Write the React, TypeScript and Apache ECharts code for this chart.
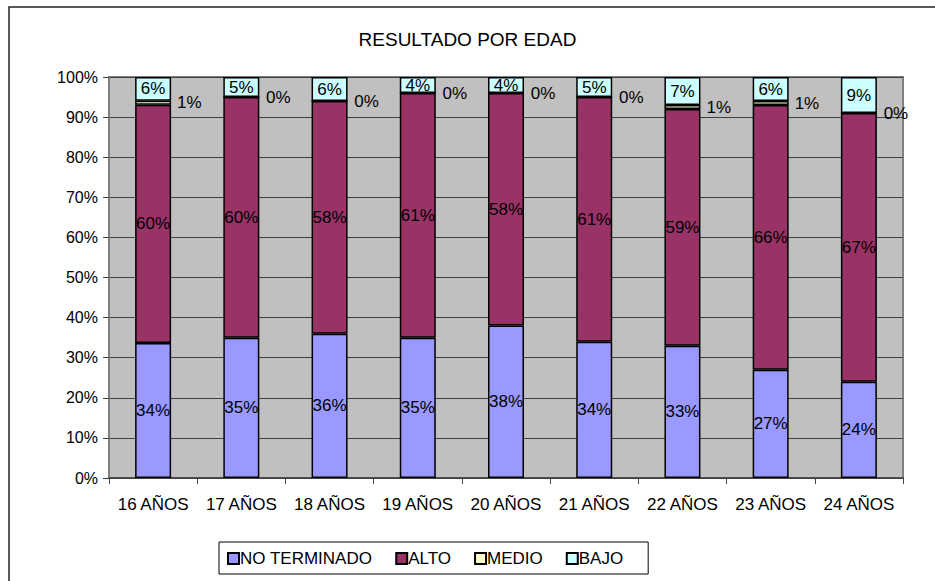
import React, { useEffect, useRef } from "react";
import * as echarts from "echarts";

const categories = ["16 AÑOS", "17 AÑOS", "18 AÑOS", "19 AÑOS", "20 AÑOS", "21 AÑOS", "22 AÑOS", "23 AÑOS", "24 AÑOS"];
const seriesNames = ["NO TERMINADO", "ALTO", "MEDIO", "BAJO"];
const noTerminado = [34, 35, 36, 35, 38, 34, 33, 27, 24];
const alto = [60, 60, 58, 61, 58, 61, 59, 66, 67];
const medio = [1, 0, 0, 0, 0, 0, 1, 1, 0];
const bajo = [6, 5, 6, 4, 4, 5, 7, 6, 9];
const yTicks = [0, 10, 20, 30, 40, 50, 60, 70, 80, 90, 100];

const colors = ["#9999FF", "#993366", "#FFFFCC", "#CCFFFF"];
const FONT = "Liberation Sans, Arial, sans-serif";

export default function App() {
  const ref = useRef<HTMLDivElement>(null);
  useEffect(() => {
    if (!ref.current) return;
    const chart = echarts.init(ref.current, undefined, { renderer: "svg" });
    const raw = [noTerminado, alto, medio, bajo];
    const totals = categories.map((_, i) => raw.reduce((s, arr) => s + arr[i], 0));
    const series = raw.map((arr, si) => ({
      name: seriesNames[si],
      type: "bar",
      stack: "total",
      barWidth: 36,
      data: arr.map((v, i) => ({ value: (v / totals[i]) * 100, shown: v })),
      itemStyle: { color: colors[si], borderColor: "#000", borderWidth: 1.5 },
      label: {
        show: true,
        position: si === 2 ? "right" : "inside",
        distance: 6,
        color: "#000",
        fontFamily: FONT,
        fontSize: 17,
        formatter: (p: any) => `${p.data.shown}%`,
      },
    }));
    chart.setOption({
      animation: false,
      backgroundColor: "#fff",
      title: {
        text: "RESULTADO POR EDAD",
        left: "center",
        top: 25,
        textStyle: { fontFamily: FONT, fontSize: 19, fontWeight: "normal", color: "#000" },
      },
      graphic: [
        {
          type: "rect",
          shape: { x: 9, y: 7, width: 1000, height: 1000 },
          style: { fill: "none", stroke: "#222", lineWidth: 1.5 },
          silent: true,
        },
      ],
      legend: {
        data: seriesNames,
        left: 219,
        top: 542,
        orient: "horizontal",
        borderColor: "#000",
        borderWidth: 1,
        padding: [8, 25, 7, 8],
        itemGap: 23,
        itemWidth: 11,
        itemHeight: 11,
        icon: "rect",
        textStyle: { fontFamily: FONT, fontSize: 17, color: "#000", padding: [0, 0, 0, -4] },
      },
      grid: {
        left: 109,
        top: 77,
        width: 794,
        height: 401,
        show: true,
        backgroundColor: "#C0C0C0",
        borderColor: "#808080",
        borderWidth: 2,
      },
      xAxis: {
        type: "category",
        data: categories,
        axisLine: { lineStyle: { color: "#404040", width: 1.5 } },
        axisTick: { show: true, length: 6, lineStyle: { color: "#404040" } },
        axisLabel: { fontFamily: FONT, fontSize: 17, color: "#000", margin: 18, interval: 0 },
      },
      yAxis: {
        type: "value",
        min: 0,
        max: 100,
        interval: 10,
        axisLine: { show: true, lineStyle: { color: "#808080", width: 2 } },
        axisTick: { show: true, length: 6, lineStyle: { color: "#404040" } },
        axisLabel: {
          fontFamily: FONT,
          fontSize: 16,
          color: "#000",
          margin: 11,
          formatter: (v: number) => (yTicks.includes(v) ? `${v}%` : ""),
        },
        splitLine: { show: true, lineStyle: { color: "#404040", width: 1 } },
      },
      series,
    });
    return () => chart.dispose();
  }, []);
  return <div ref={ref} style={{ position: "fixed", left: 0, top: 0, width: 935, height: 581 }} />;
}
